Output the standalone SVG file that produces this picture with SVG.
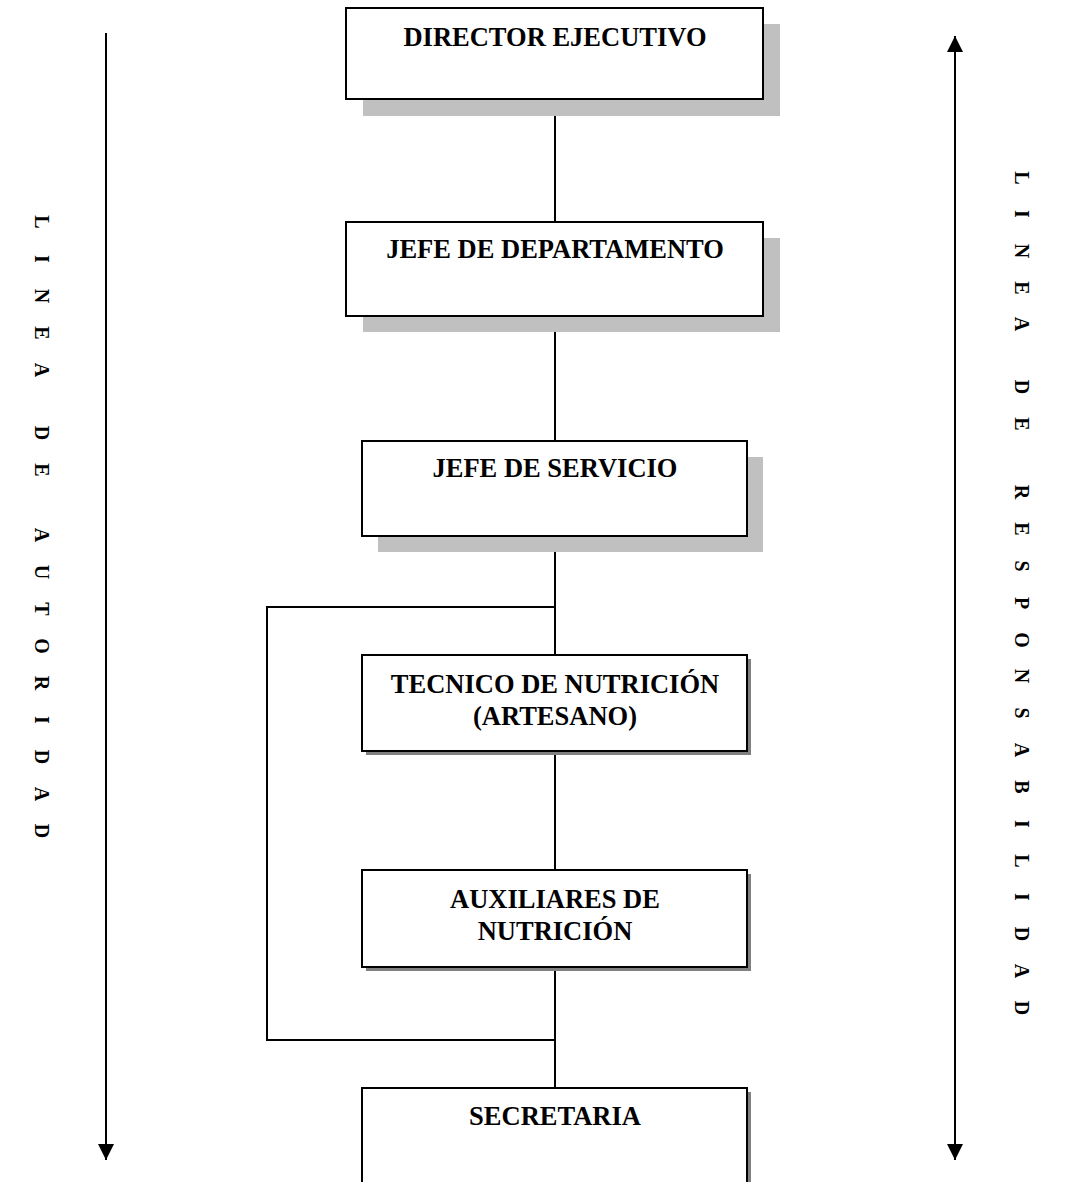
<svg xmlns="http://www.w3.org/2000/svg" width="1065" height="1182" viewBox="0 0 1065 1182">
<style>
.box{fill:#fff;stroke:#000;stroke-width:2}
.sh1{fill:#c0c0c0}
.sh2{fill:#808080}
.lbl{font-family:"Liberation Serif","Times New Roman",serif;font-weight:bold;font-size:26.5px;text-anchor:middle;fill:#000}
.vt{font-family:"Liberation Serif","Times New Roman",serif;font-weight:bold;font-size:20px;text-anchor:middle;fill:#000}
.ln{stroke:#000;stroke-width:2;fill:none}
</style>
<defs>
<marker id="ah" viewBox="0 0 10 10" refX="10" refY="5" markerWidth="8" markerHeight="9" markerUnits="strokeWidth" orient="auto-start-reverse">
<path d="M0,0 L10,5 L0,10 z" fill="#000"/>
</marker>
</defs>
<rect width="1065" height="1182" fill="#fff"/>
<g id="connectors">
<line class="ln" x1="555" y1="100" x2="555" y2="222"/>
<line class="ln" x1="555" y1="316" x2="555" y2="441"/>
<line class="ln" x1="555" y1="536" x2="555" y2="655"/>
<polyline class="ln" points="555,607 267,607 267,1040 555,1040"/>
<line class="ln" x1="555" y1="751" x2="555" y2="870"/>
<line class="ln" x1="555" y1="967" x2="555" y2="1088"/>
<line class="ln" x1="106" y1="33" x2="106" y2="1160" marker-end="url(#ah)"/>
<line class="ln" x1="955" y1="36" x2="955" y2="1160" marker-start="url(#ah)" marker-end="url(#ah)"/>
</g>
<g id="n1">
<rect class="sh1" x="363" y="24" width="417" height="92"/>
<rect class="box" x="346" y="8" width="417" height="91"/>
<text class="lbl" x="555" y="46">DIRECTOR EJECUTIVO</text>
</g>
<g id="n2">
<rect class="sh1" x="363" y="238" width="417" height="94"/>
<rect class="box" x="346" y="222" width="417" height="94"/>
<text class="lbl" x="555" y="258">JEFE DE DEPARTAMENTO</text>
</g>
<g id="n3">
<rect class="sh1" x="378" y="457" width="385" height="95"/>
<rect class="box" x="362" y="441" width="385" height="95"/>
<text class="lbl" x="555" y="477">JEFE DE SERVICIO</text>
</g>
<g id="n4">
<rect class="sh2" x="366" y="659" width="385" height="96"/>
<rect class="box" x="362" y="655" width="385" height="96"/>
<text class="lbl" x="555" y="693">TECNICO DE NUTRICIÓN</text>
<text class="lbl" x="555" y="725">(ARTESANO)</text>
</g>
<g id="n5">
<rect class="sh2" x="366" y="874" width="385" height="97"/>
<rect class="box" x="362" y="870" width="385" height="97"/>
<text class="lbl" x="555" y="908">AUXILIARES DE</text>
<text class="lbl" x="555" y="940">NUTRICIÓN</text>
</g>
<g id="n6">
<rect class="sh2" x="366" y="1092" width="385" height="100"/>
<rect class="box" x="362" y="1088" width="385" height="104"/>
<text class="lbl" x="555" y="1125">SECRETARIA</text>
</g>
<g id="autoridad">
<text class="vt" transform="rotate(90)" y="-35" x="222 240 259 277 296 314 333 351 370 401 433 451 470 502 535 553 572 590 609 627 646 664 683 701 720 738 757 775 794 812 831">L I N E A D E A U T O R I D A D</text>
</g>
<g id="responsabilidad">
<text class="vt" transform="rotate(90)" y="-1015" x="178 196 214 232 251 269 288 306 324 355 387 405 424 458 492 510 529 547 566 584 603 621 640 658 676 694 713 731 750 768 787 805 824 842 861 879 897 915 934 952 971 989 1008">L I N E A D E R E S P O N S A B I L I D A D</text>
</g>
</svg>
